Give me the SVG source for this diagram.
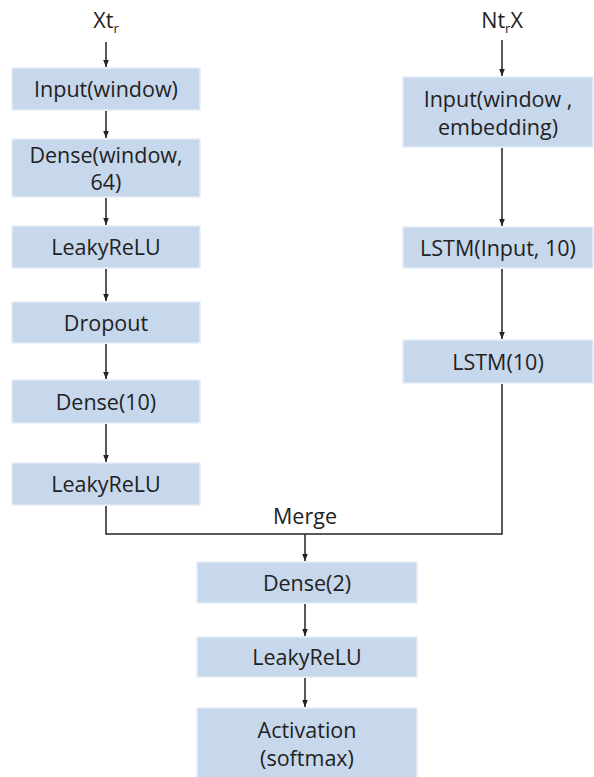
<svg xmlns="http://www.w3.org/2000/svg" width="594" height="777" viewBox="0 0 594 777">
<defs>
<marker id="ah" viewBox="0 0 10 10" refX="10" refY="5" markerWidth="7" markerHeight="7" markerUnits="userSpaceOnUse" orient="auto"><path d="M0,1 L10,5 L0,9 z" fill="#222"/></marker>
<style>
.box{fill:#c7d7ec;stroke:#e6edf7;stroke-width:1.5}
.t{font-family:"Open Sans","Noto Sans",sans-serif;font-size:21.5px;fill:#222;text-anchor:middle}
.c{stroke:#222;stroke-width:1.5;fill:none}
</style>
</defs>
<rect width="594" height="777" fill="#fff"/>
<text class="t" x="106" y="28">Xt<tspan font-size="13" dy="5">r</tspan></text>
<text class="t" x="502" y="28">Nt<tspan font-size="13" dy="5">r</tspan><tspan dy="-5">X</tspan></text>
<text class="t" x="305" y="524">Merge</text>
<g id="n1"><rect class="box" x="12" y="68" width="188" height="42"/><text class="t" x="106" y="97">Input(window)</text></g>
<g id="n2"><rect class="box" x="12" y="139" width="188" height="58"/><text class="t" x="106" y="163">Dense(window,</text><text class="t" x="106" y="190">64)</text></g>
<g id="n3"><rect class="box" x="12" y="226" width="188" height="42"/><text class="t" x="106" y="255">LeakyReLU</text></g>
<g id="n4"><rect class="box" x="12" y="302" width="188" height="41"/><text class="t" x="106" y="331">Dropout</text></g>
<g id="n5"><rect class="box" x="12" y="380" width="188" height="43"/><text class="t" x="106" y="410">Dense(10)</text></g>
<g id="n6"><rect class="box" x="12" y="463" width="188" height="42"/><text class="t" x="106" y="492">LeakyReLU</text></g>
<g id="r1"><rect class="box" x="403" y="77" width="190" height="70"/><text class="t" x="498" y="107">Input(window ,</text><text class="t" x="498" y="135">embedding)</text></g>
<g id="r2"><rect class="box" x="403" y="227" width="190" height="41"/><text class="t" x="498" y="256">LSTM(Input, 10)</text></g>
<g id="r3"><rect class="box" x="403" y="340" width="190" height="43"/><text class="t" x="498" y="370">LSTM(10)</text></g>
<g id="m1"><rect class="box" x="197" y="562" width="220" height="41"/><text class="t" x="307" y="591">Dense(2)</text></g>
<g id="m2"><rect class="box" x="197" y="637" width="220" height="40"/><text class="t" x="307" y="665">LeakyReLU</text></g>
<g id="m3"><rect class="box" x="197" y="708" width="220" height="75"/><text class="t" x="307" y="738">Activation</text><text class="t" x="307" y="766">(softmax)</text></g>
<g id="connectors">
<line class="c" x1="106" y1="42" x2="106" y2="67" marker-end="url(#ah)"/>
<line class="c" x1="106" y1="111" x2="106" y2="138" marker-end="url(#ah)"/>
<line class="c" x1="106" y1="198" x2="106" y2="225" marker-end="url(#ah)"/>
<line class="c" x1="106" y1="269" x2="106" y2="301" marker-end="url(#ah)"/>
<line class="c" x1="106" y1="344" x2="106" y2="379" marker-end="url(#ah)"/>
<line class="c" x1="106" y1="424" x2="106" y2="462" marker-end="url(#ah)"/>
<line class="c" x1="502" y1="40" x2="502" y2="76" marker-end="url(#ah)"/>
<line class="c" x1="502" y1="148" x2="502" y2="226" marker-end="url(#ah)"/>
<line class="c" x1="502" y1="269" x2="502" y2="339" marker-end="url(#ah)"/>
<polyline class="c" points="106,506 106,534 502,534 502,384"/>
<line class="c" x1="305" y1="534" x2="305" y2="561" marker-end="url(#ah)"/>
<line class="c" x1="305" y1="604" x2="305" y2="636" marker-end="url(#ah)"/>
<line class="c" x1="305" y1="678" x2="305" y2="707" marker-end="url(#ah)"/>
</g>
</svg>
